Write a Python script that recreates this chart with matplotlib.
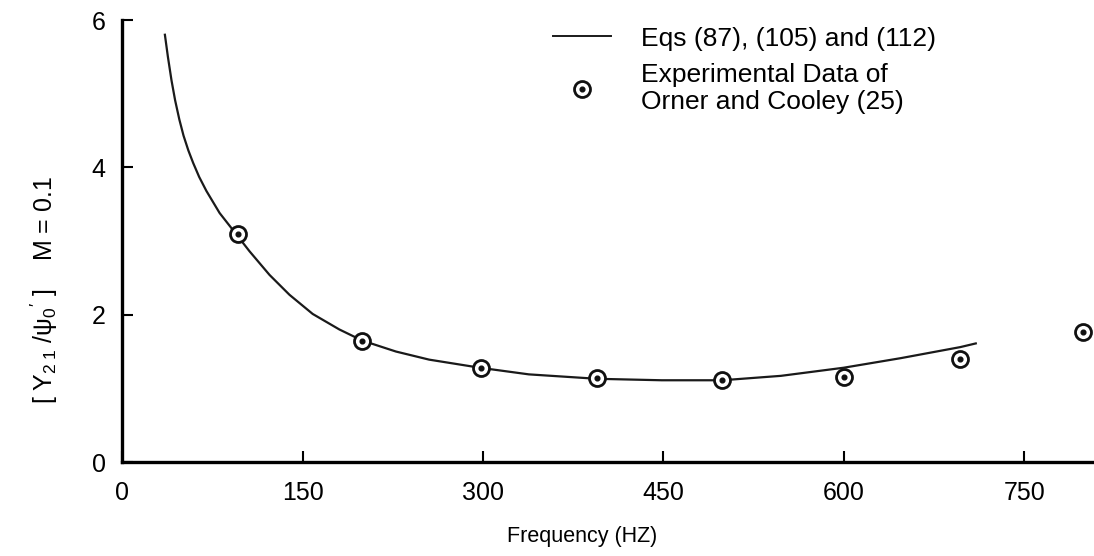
import matplotlib
matplotlib.use("Agg")
import matplotlib.pyplot as plt
from matplotlib.lines import Line2D

plt.rcParams['font.family'] = ['Liberation Sans', 'DejaVu Sans']
plt.rcParams['mathtext.fontset'] = 'custom'
plt.rcParams['mathtext.rm'] = 'Liberation Sans'
plt.rcParams['mathtext.it'] = 'Liberation Sans'

# theory curve, Eqs (87), (105), (112)
theory_hz = [35.5, 38, 41, 44, 47.5, 51, 55, 59, 64, 70, 81, 95.4, 105.9, 122.5,
             139.1, 158.4, 180.5, 199.4, 227.6, 255.2, 297.4, 338.1, 394.7,
             448.6, 498.9, 547.7, 599.8, 647.3, 696.8, 709.7]
theory_val = [5.80, 5.50, 5.18, 4.91, 4.65, 4.43, 4.23, 4.06, 3.87, 3.68, 3.38, 3.08,
              2.86, 2.54, 2.27, 2.01, 1.80, 1.65, 1.50, 1.39, 1.28, 1.19, 1.13,
              1.11, 1.11, 1.17, 1.28, 1.41, 1.56, 1.61]

# Orner and Cooley (25)
exp_hz = [96, 199, 298, 395, 499, 600, 697, 799]
exp_val = [3.09, 1.64, 1.28, 1.14, 1.11, 1.15, 1.40, 1.77]

xticks = [0, 150, 300, 450, 600, 750]
yticks = [0, 2, 4, 6]

fig = plt.figure(figsize=(10.94, 5.56), dpi=100)
ax = fig.add_axes([0.1117, 0.169, 0.8883, 0.795])

ax.plot(theory_hz, theory_val, color='#1a1a1a', lw=1.6)
ax.plot(exp_hz, exp_val, ls='none', marker='o', ms=11.5, mfc='white',
        mec='#111111', mew=2.0, clip_on=False, zorder=3)
ax.plot(exp_hz, exp_val, ls='none', marker='o', ms=3.4, mfc='#111111',
        mec='#111111', clip_on=False, zorder=4)

ax.set_xlim(0, 808)
ax.set_ylim(0, 6)
ax.set_xticks(xticks)
ax.set_yticks(yticks)
ax.tick_params(direction='in', length=8, width=1.5, labelsize=18)
ax.tick_params(axis='x', pad=14)
ax.tick_params(axis='y', pad=12)

for side in ('top', 'right'):
    ax.spines[side].set_visible(False)
for side in ('left', 'bottom'):
    ax.spines[side].set_linewidth(2.4)

ax.set_xlabel('Frequency (HZ)', fontsize=15.5)
ax.xaxis.set_label_coords(0.473, -0.145)
ax.set_ylabel(r"[ Y$_{2\;1}$ /$\psi_{0}$$'$ ]    M = 0.1", fontsize=18)
ax.yaxis.set_label_coords(-0.064, 0.39)

curve_h = Line2D([], [], color='#1a1a1a', lw=1.4)
ring_h = Line2D([], [], ls='none', marker='o', ms=11.5, mfc='white', mec='#111111', mew=2.0)
dot_h = Line2D([], [], ls='none', marker='o', ms=3.4, mfc='#111111', mec='#111111')
ax.legend([curve_h, (ring_h, dot_h)],
          ['Eqs (87), (105) and (112)', 'Experimental Data of\nOrner and Cooley (25)'],
          loc='upper left', bbox_to_anchor=(0.443, 0.985), frameon=False,
          borderpad=0, borderaxespad=0, fontsize=19,
          handlelength=2.2, handletextpad=1.15, labelspacing=0.45)

fig.savefig('out.png', dpi=100)
